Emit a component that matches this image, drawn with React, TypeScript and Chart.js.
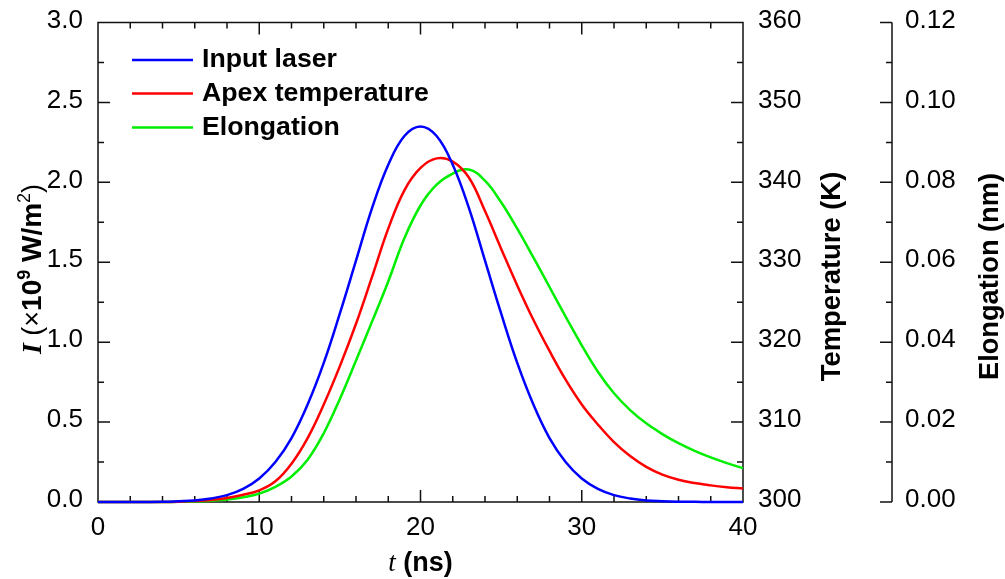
import React, { useEffect, useRef } from "react";
import { Chart, registerables } from "chart.js";

Chart.register(...registerables);

// ---- Data ----
const timeNs = [
  0, 1, 2, 3, 4, 5, 6, 7, 8, 9, 10, 11, 12, 13, 14, 15, 16, 17, 18, 19, 20,
  21, 22, 23, 24, 25, 26, 27, 28, 29, 30, 31, 32, 33, 34, 35, 36, 37, 38, 39, 40,
];

// Input laser intensity (x10^9 W/m^2)
const inputLaser = [
  0, 0, 0, 0, 0.001, 0.005, 0.01, 0.022, 0.043, 0.082, 0.147, 0.25, 0.4, 0.61,
  0.87, 1.18, 1.51, 1.84, 2.11, 2.29, 2.35, 2.29, 2.11, 1.84, 1.51, 1.18, 0.87,
  0.61, 0.4, 0.25, 0.147, 0.082, 0.043, 0.022, 0.01, 0.005, 0.002, 0.001, 0, 0, 0,
];

// Apex temperature (K)
const apexTemperature = [
  300, 300, 300, 300, 300, 300.04, 300.12, 300.26, 300.5, 300.9, 301.46, 302.6,
  304.8, 308.0, 312.2, 317.0, 322.3, 328.2, 334.2, 339.0, 341.8, 343.0, 342.6,
  340.6, 336.4, 331.7, 327.1, 322.8, 318.9, 315.3, 312.2, 309.7, 307.5, 305.75,
  304.4, 303.42, 302.78, 302.37, 302.08, 301.86, 301.7,
];

// Elongation (nm)
const elongation = [
  0, 0, 0, 0, 0, 0.00004, 0.00012, 0.00032, 0.00064, 0.0012, 0.0021, 0.0038,
  0.0064, 0.0106, 0.0172, 0.0258, 0.0354, 0.0452, 0.0552, 0.066, 0.0742, 0.0794,
  0.0822, 0.0832, 0.0804, 0.075, 0.0684, 0.0612, 0.0538, 0.0464, 0.0392,
  0.0326, 0.0272, 0.023, 0.01968, 0.017, 0.01472, 0.0128, 0.01116, 0.00972,
  0.00848,
];

const seriesLabels = ["Input laser", "Apex temperature", "Elongation"];
const seriesColors = ["#0000ff", "#ff0000", "#00ee00"];

const FONT = "'Liberation Sans', Arial, sans-serif";
const SERIF = "'Liberation Serif', 'Times New Roman', serif";

type Seg = { text: string; font: string; dy?: number };

function drawRich(
  ctx: CanvasRenderingContext2D,
  segs: Seg[],
  cx: number,
  baseline: number,
  rotate: boolean
) {
  ctx.save();
  let total = 0;
  const widths = segs.map((s) => {
    ctx.font = s.font;
    const w = ctx.measureText(s.text).width;
    total += w;
    return w;
  });
  if (rotate) {
    ctx.translate(baseline, cx);
    ctx.rotate(-Math.PI / 2);
  } else {
    ctx.translate(cx, baseline);
  }
  ctx.textBaseline = "alphabetic";
  ctx.textAlign = "left";
  ctx.fillStyle = "#000";
  let x = -total / 2;
  segs.forEach((s, i) => {
    ctx.font = s.font;
    ctx.fillText(s.text, x, s.dy || 0);
    x += widths[i];
  });
  ctx.restore();
}

const zeroPad = (s: any) => {
  s.paddingTop = 0;
  s.paddingBottom = 0;
  s.paddingLeft = 0;
  s.paddingRight = 0;
};

const framePlugin = {
  id: "frame",
  beforeDatasetsDraw(chart: any) {
    const ctx: CanvasRenderingContext2D = chart.ctx;
    const { left, right, top, bottom } = chart.chartArea;
    const sx = chart.scales.x;
    const sy = chart.scales.y;
    const sT = chart.scales.yT;
    const sE = chart.scales.yE;
    const major = 12;
    const minor = 6;
    ctx.save();
    ctx.strokeStyle = "#111";
    ctx.lineWidth = 1.5;
    ctx.beginPath();
    ctx.moveTo(left, top);
    ctx.lineTo(right, top);
    ctx.lineTo(right, bottom);
    ctx.lineTo(left, bottom);
    ctx.closePath();
    const ex = sE.left;
    ctx.moveTo(ex, top);
    ctx.lineTo(ex, bottom);

    for (let v = 2; v < 40; v += 2) {
      const px = sx.getPixelForValue(v);
      const len = v % 10 === 0 ? major : minor;
      ctx.moveTo(px, bottom);
      ctx.lineTo(px, bottom - len);
      ctx.moveTo(px, top);
      ctx.lineTo(px, top + len);
    }
    for (let i = 1; i < 12; i++) {
      const py = sy.getPixelForValue(i * 0.25);
      const len = i % 2 === 0 ? major : minor;
      ctx.moveTo(left, py);
      ctx.lineTo(left + len, py);
    }
    for (let i = 1; i < 12; i++) {
      const py = sT.getPixelForValue(300 + i * 5);
      const len = i % 2 === 0 ? major : minor;
      ctx.moveTo(right, py);
      ctx.lineTo(right - len, py);
    }
    for (let i = 0; i <= 12; i++) {
      const py = sE.getPixelForValue(i * 0.01);
      const len = i % 2 === 0 ? major : minor;
      ctx.moveTo(ex, py);
      ctx.lineTo(ex - len, py);
    }
    ctx.stroke();
    ctx.restore();
  },
  afterDraw(chart: any) {
    const ctx: CanvasRenderingContext2D = chart.ctx;
    const ds = chart.data.datasets;
    const ys = [60, 93.5, 127.5];
    ctx.save();
    ds.forEach((d: any, i: number) => {
      ctx.strokeStyle = d.borderColor;
      ctx.lineWidth = 2.5;
      ctx.beginPath();
      ctx.moveTo(132, ys[i]);
      ctx.lineTo(193, ys[i]);
      ctx.stroke();
      ctx.fillStyle = "#000";
      ctx.font = `bold 26.7px ${FONT}`;
      ctx.textBaseline = "middle";
      ctx.textAlign = "left";
      ctx.fillText(d.label, 202, ys[i]);
    });
    ctx.restore();

    drawRich(
      ctx,
      [
        { text: "I", font: `bold italic 28px ${SERIF}` },
        { text: " (×", font: `27px ${FONT}` },
        { text: "10", font: `bold 28px ${FONT}` },
        { text: "9", font: `bold 18px ${FONT}`, dy: -11 },
        { text: " W/m", font: `bold 28px ${FONT}` },
        { text: "2", font: `18px ${FONT}`, dy: -11 },
        { text: ")", font: `27px ${FONT}` },
      ],
      269,
      41,
      true
    );
    drawRich(
      ctx,
      [
        { text: "t", font: `italic 27px ${SERIF}` },
        { text: " (ns)", font: `bold 27px ${FONT}` },
      ],
      chart.chartArea.left + (chart.chartArea.right - chart.chartArea.left) / 2,
      571,
      false
    );
    drawRich(ctx, [{ text: "Temperature (K)", font: `bold 27.4px ${FONT}` }], 276.5, 840, true);
    drawRich(ctx, [{ text: "Elongation (nm)", font: `bold 27.2px ${FONT}` }], 276.5, 998, true);
  },
};

export default function App() {
  const ref = useRef<HTMLCanvasElement | null>(null);
  useEffect(() => {
    if (!ref.current) return;
    const tickFont = { family: FONT, size: 26 };
    const chart = new Chart(ref.current, {
      type: "line",
      data: {
        datasets: [
          {
            label: seriesLabels[0],
            data: timeNs.map((t, i) => ({ x: t, y: inputLaser[i] })),
            borderColor: seriesColors[0],
            yAxisID: "y",
          },
          {
            label: seriesLabels[1],
            data: timeNs.map((t, i) => ({ x: t, y: apexTemperature[i] })),
            borderColor: seriesColors[1],
            yAxisID: "yT",
          },
          {
            label: seriesLabels[2],
            data: timeNs.map((t, i) => ({ x: t, y: elongation[i] })),
            borderColor: seriesColors[2],
            yAxisID: "yE",
          },
        ],
      },
      options: {
        responsive: false,
        animation: false,
        devicePixelRatio: 1,
        layout: { padding: { top: 22.5, left: 0, right: 0, bottom: 0 } },
        datasets: {
          line: {
            borderWidth: 2.5,
            pointRadius: 0,
            tension: 0.4,
            clip: false,
            fill: false,
          },
        },
        plugins: { legend: { display: false }, tooltip: { enabled: false } },
        scales: {
          x: {
            type: "linear",
            position: "bottom",
            min: 0,
            max: 40,
            grid: { display: false, drawTicks: false },
            border: { display: false },
            ticks: { stepSize: 10, font: tickFont, color: "#000", padding: 10, autoSkip: false, maxRotation: 0 },
            afterFit: (s: any) => {
              s.height = 77;
              zeroPad(s);
            },
          },
          y: {
            type: "linear",
            position: "left",
            min: 0,
            max: 3,
            grid: { display: false, drawTicks: false },
            border: { display: false },
            ticks: {
              stepSize: 0.5,
              font: tickFont,
              color: "#000",
              padding: 15,
              labelOffset: -2,
              callback: (v: any) => Number(v).toFixed(1),
            },
            afterFit: (s: any) => {
              s.width = 98;
              zeroPad(s);
            },
          },
          yT: {
            type: "linear",
            position: "right",
            min: 300,
            max: 360,
            grid: { display: false, drawTicks: false },
            border: { display: false },
            ticks: { stepSize: 10, font: tickFont, color: "#000", padding: 15, labelOffset: -2 },
            afterFit: (s: any) => {
              s.width = 149;
              zeroPad(s);
            },
          },
          yE: {
            type: "linear",
            position: "right",
            min: 0,
            max: 0.12,
            grid: { display: false, drawTicks: false },
            border: { display: false },
            ticks: {
              stepSize: 0.02,
              font: tickFont,
              color: "#000",
              padding: 13,
              labelOffset: -2,
              callback: (v: any) => Number(v).toFixed(2),
            },
            afterFit: (s: any) => {
              s.width = 113;
              zeroPad(s);
            },
          },
        },
      },
      plugins: [framePlugin],
    } as any);
    return () => chart.destroy();
  }, []);
  return (
    <div style={{ position: "absolute", left: 0, top: 0, width: 1005, height: 579, background: "#fff" }}>
      <canvas ref={ref} width={1005} height={579} />
    </div>
  );
}
